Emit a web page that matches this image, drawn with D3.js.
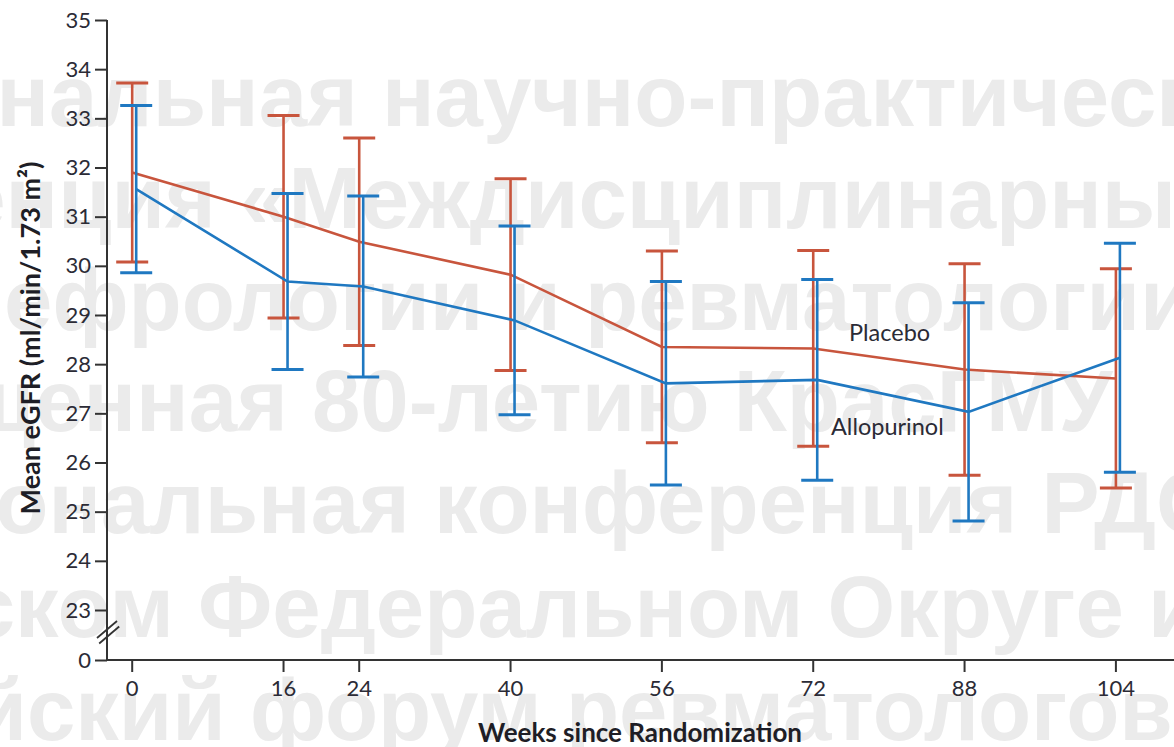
<!DOCTYPE html>
<html>
<head>
<meta charset="utf-8">
<script src="https://cdn.jsdelivr.net/npm/d3@7"></script>
<style>
  body { margin: 0; background: #fff; }
  svg { display: block; }
</style>
</head>
<body>
<svg id="chart" width="1174" height="747"></svg>
<script>
// ---- data ----
const weeks = [0, 16, 24, 40, 56, 72, 88, 104];
const placeboMean = [31.90, 31.00, 30.49, 29.82, 28.35, 28.32, 27.89, 27.71];
const placeboErr = [1.82, 2.06, 2.11, 1.95, 1.95, 1.99, 2.15, 2.23];
const allopurinolMean = [31.56, 29.68, 29.58, 28.89, 27.61, 27.68, 27.03, 28.13];
const allopurinolErr = [1.70, 1.79, 1.84, 1.92, 2.07, 2.04, 2.22, 2.33];
const yTickValues = [0, 23, 24, 25, 26, 27, 28, 29, 30, 31, 32, 33, 34, 35];
const seriesNames = ["Placebo", "Allopurinol"];
const xTitle = "Weeks since Randomization";
const yTitle = "Mean eGFR (ml/min/1.73 m²)";

// background lettering: text, word to anchor on
const watermarkText = [
  ["Региональная научно-практическая", "научно"],
  ["конференция «Междисциплинарные вопросы", "«Междисциплинарные"],
  ["нефрологии и ревматологии", "ревматологии"],
  ["посвященная 80-летию КрасГМУ", "80-летию"],
  ["Региональная конференция РДО", "конференция"],
  ["в Сибирском Федеральном Округе и", "Федеральном"],
  ["Всероссийский форум ревматологов", "форум"]
];
const watermarkAnchorX = [382, 240, 585, 312, 434, 198, 250];
const watermarkBaseline = [126, 228, 330, 431, 533, 637, 740];

// ---- layout ----
const svg = d3.select("#chart");
const axisX = 107, baseY = 660;
const colors = { placebo: "#c8553d", allopurinol: "#1f78c1" };
const textColor = "#2b2b36";
const font = "Lato, 'Open Sans', sans-serif";

const x = d3.scaleLinear().domain([0, 104]).range([131.7, 1115.4]);
// broken axis: 0 sits just below the 23–35 segment
const y = d3.scaleLinear().domain([0, 23, 35]).range([baseY, 610, 20]);

// ---- watermark ----
const defs = svg.append("defs");
defs.append("filter").attr("id", "soft")
  .append("feGaussianBlur").attr("stdDeviation", 0.7);
const wm = svg.append("g")
  .attr("fill", "#ebebeb")
  .attr("font-family", "'Liberation Sans', Arial, sans-serif")
  .attr("font-weight", "bold")
  .attr("font-size", 87)
  .attr("filter", "url(#soft)");
watermarkText.forEach(([txt, anchor], i) => {
  const t = wm.append("text").attr("y", watermarkBaseline[i]).text(txt);
  const idx = txt.indexOf(anchor);
  const pre = idx > 0 ? t.node().getSubStringLength(0, idx) : 0;
  t.attr("x", watermarkAnchorX[i] - pre);
});

// ---- axes ----
const axisG = svg.append("g").attr("stroke", "#333").attr("fill", "none");
axisG.append("line").attr("x1", axisX).attr("x2", axisX)
  .attr("y1", y(35)).attr("y2", baseY).attr("stroke-width", 2);
axisG.append("line").attr("x1", axisX - 1).attr("x2", 1174)
  .attr("y1", baseY).attr("y2", baseY).attr("stroke-width", 2);

const yAxis = svg.append("g")
  .attr("transform", `translate(${axisX},0)`)
  .call(d3.axisLeft(y).tickValues(yTickValues).tickSize(12).tickPadding(4).tickFormat(d3.format("d")));
yAxis.select(".domain").remove();
yAxis.selectAll(".tick line").attr("stroke", "#333").attr("stroke-width", 2);
yAxis.selectAll(".tick text").attr("fill", textColor).attr("font-size", 22).attr("font-family", font);

const xAxis = svg.append("g")
  .attr("transform", `translate(0,${baseY})`)
  .call(d3.axisBottom(x).tickValues(weeks).tickSize(12).tickPadding(8).tickFormat(d3.format("d")));
xAxis.select(".domain").remove();
xAxis.selectAll(".tick line").attr("stroke", "#333").attr("stroke-width", 2);
xAxis.selectAll(".tick text").attr("fill", textColor).attr("font-size", 22).attr("font-family", font);

// axis break marks
[0, 5.5].forEach(off => {
  svg.append("line")
    .attr("x1", 97 + off * 0.4).attr("y1", y(0) - 22 + off)
    .attr("x2", 117 + off * 0.4).attr("y2", y(0) - 39 + off)
    .attr("stroke", "#333").attr("stroke-width", 1.8);
});

// ---- series ----
function drawSeries(mean, err, color, dx) {
  const pts = weeks.map((w, i) => ({ w, m: mean[i], e: err[i] }));
  const g = svg.append("g").attr("stroke", color).attr("fill", "none");
  g.append("path")
    .attr("d", d3.line().x(d => x(d.w) + dx).y(d => y(d.m))(pts))
    .attr("stroke-width", 2.6);
  const bars = g.selectAll(".eb").data(pts).enter().append("g");
  bars.append("line")
    .attr("x1", d => x(d.w) + dx).attr("x2", d => x(d.w) + dx)
    .attr("y1", d => y(d.m + d.e)).attr("y2", d => y(d.m - d.e))
    .attr("stroke-width", 2.6);
  [1, -1].forEach(s => {
    bars.append("line")
      .attr("x1", d => x(d.w) + dx - 16).attr("x2", d => x(d.w) + dx + 16)
      .attr("y1", d => y(d.m + s * d.e)).attr("y2", d => y(d.m + s * d.e))
      .attr("stroke-width", 3);
  });
}
drawSeries(placeboMean, placeboErr, colors.placebo, 0.5);
drawSeries(allopurinolMean, allopurinolErr, colors.allopurinol, 4.5);

// series labels
svg.append("text").attr("x", 849).attr("y", 341)
  .attr("fill", textColor).attr("font-size", 23.5).attr("font-family", font)
  .text(seriesNames[0]);
svg.append("text").attr("x", 831).attr("y", 435)
  .attr("fill", textColor).attr("font-size", 23.5).attr("font-family", font)
  .text(seriesNames[1]);

// axis titles
svg.append("text").attr("x", 640).attr("y", 742).attr("text-anchor", "middle")
  .attr("fill", "#1e1e26").attr("font-size", 26).attr("font-weight", "bold").attr("font-family", font)
  .text(xTitle);
svg.append("text").attr("transform", "translate(40,338) rotate(-90)").attr("text-anchor", "middle")
  .attr("fill", "#1e1e26").attr("font-size", 27).attr("font-weight", "bold").attr("font-family", font)
  .text(yTitle);
</script>
</body>
</html>
